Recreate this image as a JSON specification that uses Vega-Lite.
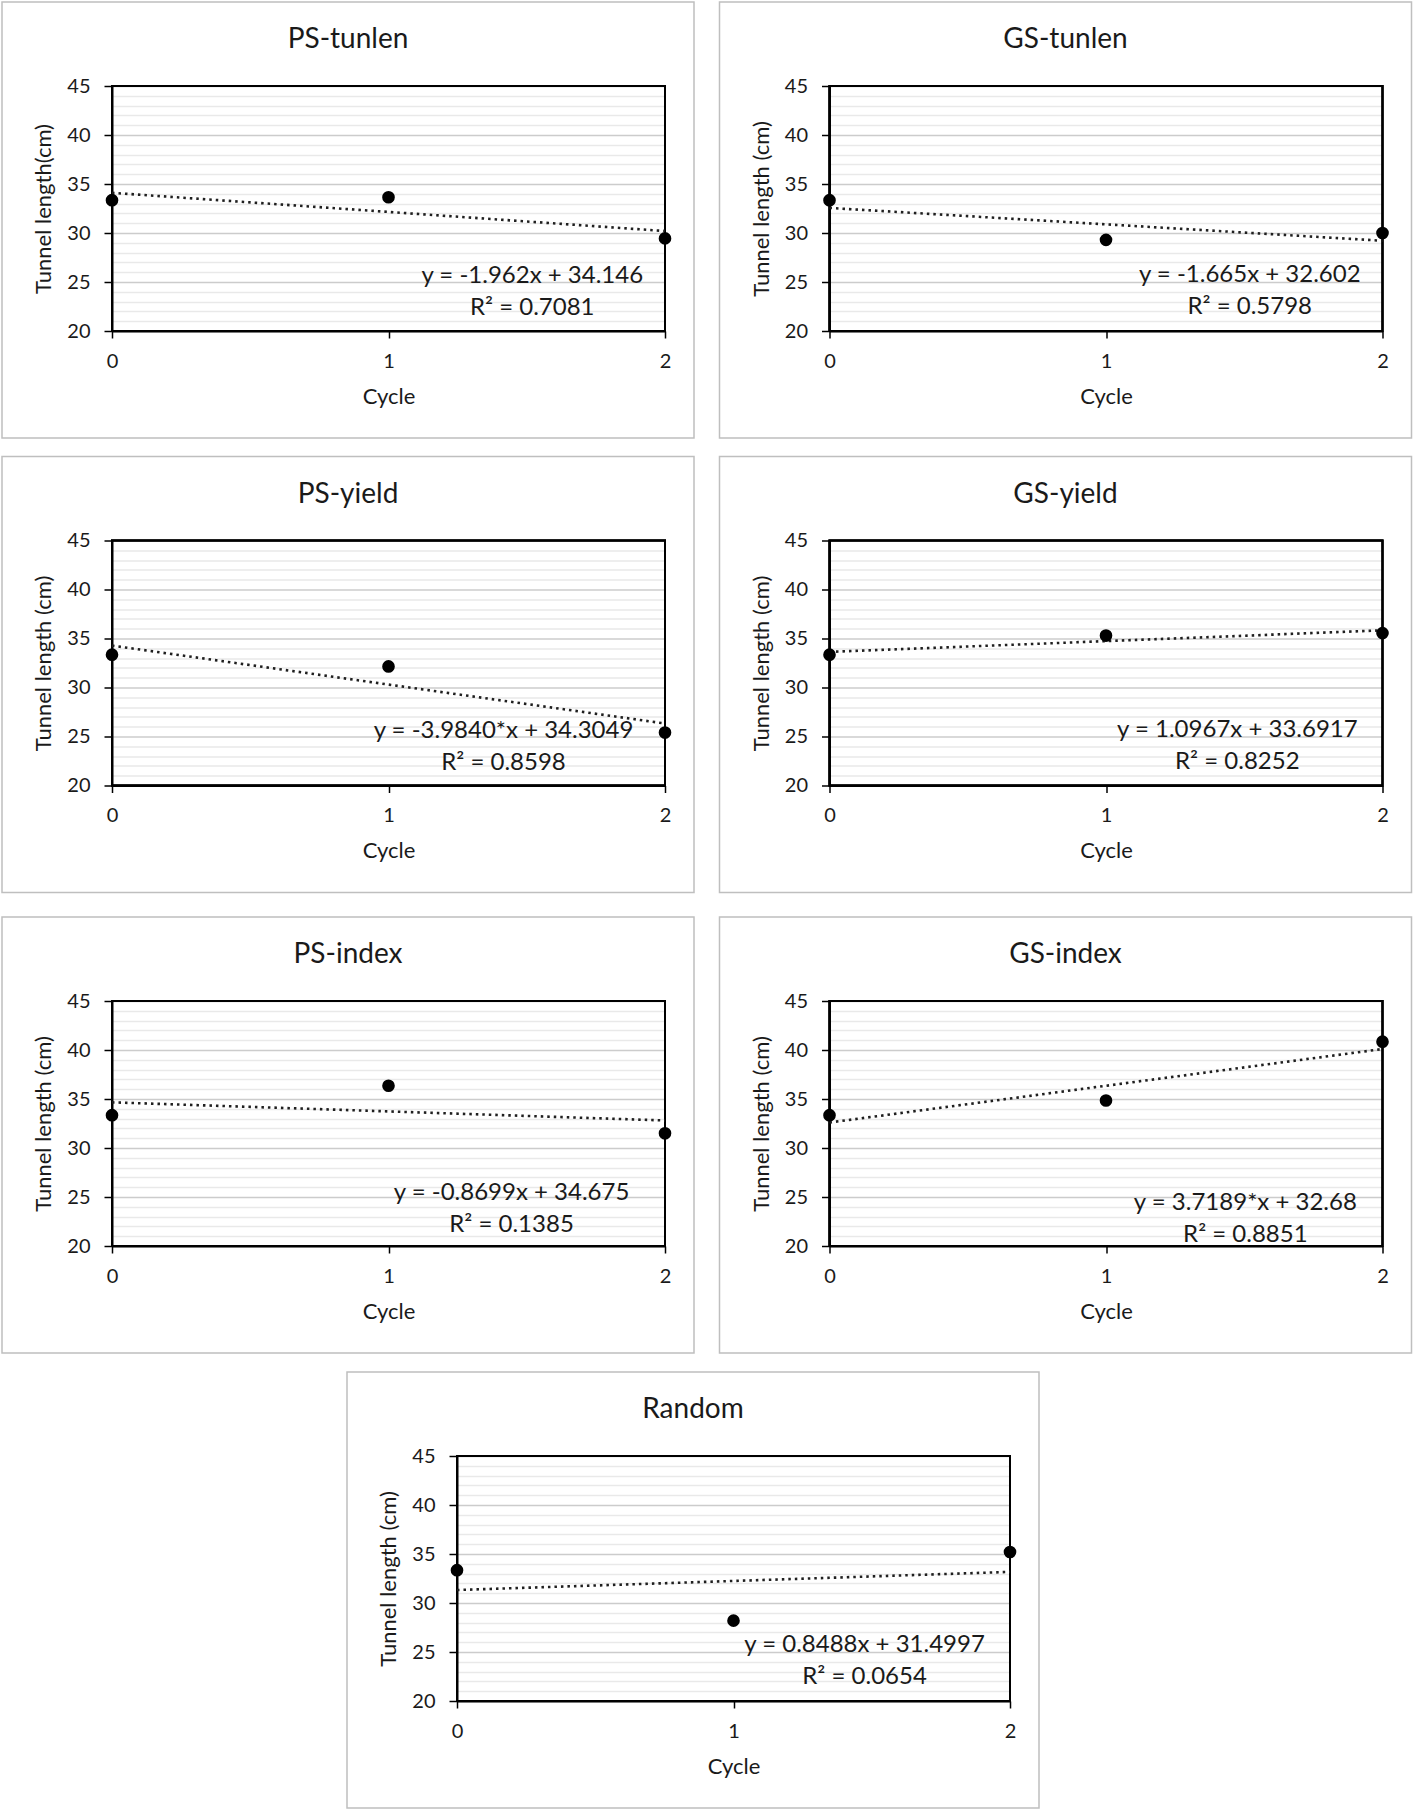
{
  "$schema": "https://vega.github.io/schema/vega-lite/v6.json",
  "padding": 1,
  "spacing": 22,
  "config": {
    "font": "Lato",
    "view": {"stroke": null},
    "axis": {
      "labelFontSize": 20, "labelColor": "#1a1a1a",
      "titleFontSize": 22, "titleFontWeight": "normal", "titleColor": "#1a1a1a",
      "domainColor": "black", "domainWidth": 2,
      "tickColor": "black", "tickWidth": 1.5,
      "labelFlush": false, "labelOverlap": false
    },
    "title": {"fontSize": 28, "fontWeight": "normal", "color": "#1a1a1a", "offset": -52, "baseline": "middle", "anchor": "middle"}
  },
  "datasets": {
    "points": [
      {"panel": "PS-tunlen", "cycle": 0, "length": 33.35},
      {"panel": "PS-tunlen", "cycle": 1, "length": 33.65},
      {"panel": "PS-tunlen", "cycle": 2, "length": 29.45},
      {"panel": "GS-tunlen", "cycle": 0, "length": 33.35},
      {"panel": "GS-tunlen", "cycle": 1, "length": 29.3},
      {"panel": "GS-tunlen", "cycle": 2, "length": 30.0},
      {"panel": "PS-yield", "cycle": 0, "length": 33.35},
      {"panel": "PS-yield", "cycle": 1, "length": 32.15},
      {"panel": "PS-yield", "cycle": 2, "length": 25.4},
      {"panel": "GS-yield", "cycle": 0, "length": 33.35},
      {"panel": "GS-yield", "cycle": 1, "length": 35.3},
      {"panel": "GS-yield", "cycle": 2, "length": 35.55},
      {"panel": "PS-index", "cycle": 0, "length": 33.35},
      {"panel": "PS-index", "cycle": 1, "length": 36.35},
      {"panel": "PS-index", "cycle": 2, "length": 31.5},
      {"panel": "GS-index", "cycle": 0, "length": 33.35},
      {"panel": "GS-index", "cycle": 1, "length": 34.85},
      {"panel": "GS-index", "cycle": 2, "length": 40.85},
      {"panel": "Random", "cycle": 0, "length": 33.35},
      {"panel": "Random", "cycle": 1, "length": 28.2},
      {"panel": "Random", "cycle": 2, "length": 35.2}
    ],
    "notes": [
      {"panel": "PS-tunlen", "cycle": 1.52, "length": 25.65, "label": "y = -1.962x + 34.146\nR² = 0.7081"},
      {"panel": "GS-tunlen", "cycle": 1.52, "length": 25.7, "label": "y = -1.665x + 32.602\nR² = 0.5798"},
      {"panel": "PS-yield", "cycle": 1.416, "length": 25.55, "label": "y = -3.9840*x + 34.3049\nR² = 0.8598"},
      {"panel": "GS-yield", "cycle": 1.475, "length": 25.7, "label": "y = 1.0967x + 33.6917\nR² = 0.8252"},
      {"panel": "PS-index", "cycle": 1.445, "length": 25.4, "label": "y = -0.8699x + 34.675\nR² = 0.1385"},
      {"panel": "GS-index", "cycle": 1.504, "length": 24.35, "label": "y = 3.7189*x + 32.68\nR² = 0.8851"},
      {"panel": "Random", "cycle": 1.474, "length": 25.7, "label": "y = 0.8488x + 31.4997\nR² = 0.0654"}
    ]
  },
  "vconcat": [
    {
      "spacing": 16.5,
      "vconcat": [
        {
          "spacing": 23.5,
          "hconcat": [
            {
              "width": 692, "height": 436,
              "view": {"stroke": "#bfbfbf", "strokeWidth": 1.5},
              "title": "PS-tunlen",
              "data": {"name": "points"},
              "transform": [{"filter": "datum.panel === 'PS-tunlen'"}],
              "encoding": {
                "x": {"field": "cycle", "type": "quantitative", "scale": {"domain": [0, 2], "range": [110, 663]},
                  "axis": {"title": "Cycle", "values": [0, 1, 2], "tickCount": 3, "labelExpr": "'' + datum.value", "grid": false, "tickSize": 7, "labelPadding": 13, "titlePadding": 15, "offset": -107}},
                "y": {"field": "length", "type": "quantitative", "scale": {"domain": [20, 45], "range": [329, 84]},
                  "axis": {"title": "Tunnel length(cm)", "values": [20,21,22,23,24,25,26,27,28,29,30,31,32,33,34,35,36,37,38,39,40,41,42,43,44,45],
                    "labelExpr": "datum.value % 5 === 0 ? datum.label : ''",
                    "tickColor": {"condition": {"test": "datum.value % 5 === 0", "value": "black"}, "value": "transparent"},
                    "grid": true, "gridColor": {"condition": {"test": "datum.value % 5 === 0", "value": "#cccccc"}, "value": "#e9e9e9"}, "gridWidth": 1.3,
                    "tickSize": 8, "labelPadding": 14, "titlePadding": 11, "offset": -110}}
              },
              "layer": [
                {"mark": {"type": "rect", "fill": null, "stroke": "black", "strokeWidth": 2},
                  "encoding": {"x": {"datum": 0}, "x2": {"datum": 2}, "y": {"datum": 20}, "y2": {"datum": 45}}},
                {"transform": [{"regression": "length", "on": "cycle", "extent": [0, 2]}],
                  "mark": {"type": "line", "strokeDash": [2.5, 4], "strokeWidth": 2.6, "color": "#1f1f1f"}},
                {"mark": {"type": "circle", "size": 160, "color": "black", "opacity": 1}},
                {"data": {"name": "notes"}, "transform": [{"filter": "datum.panel === 'PS-tunlen'"}],
                  "mark": {"type": "text", "fontSize": 24, "lineBreak": "\n", "lineHeight": 32, "align": "center", "baseline": "middle", "color": "#1a1a1a"},
                  "encoding": {"text": {"field": "label"}}}
              ]
            },
            {
              "width": 692, "height": 436,
              "view": {"stroke": "#bfbfbf", "strokeWidth": 1.5},
              "title": "GS-tunlen",
              "data": {"name": "points"},
              "transform": [{"filter": "datum.panel === 'GS-tunlen'"}],
              "encoding": {
                "x": {"field": "cycle", "type": "quantitative", "scale": {"domain": [0, 2], "range": [110, 663]},
                  "axis": {"title": "Cycle", "values": [0, 1, 2], "tickCount": 3, "labelExpr": "'' + datum.value", "grid": false, "tickSize": 7, "labelPadding": 13, "titlePadding": 15, "offset": -107}},
                "y": {"field": "length", "type": "quantitative", "scale": {"domain": [20, 45], "range": [329, 84]},
                  "axis": {"title": "Tunnel length (cm)", "values": [20,21,22,23,24,25,26,27,28,29,30,31,32,33,34,35,36,37,38,39,40,41,42,43,44,45],
                    "labelExpr": "datum.value % 5 === 0 ? datum.label : ''",
                    "tickColor": {"condition": {"test": "datum.value % 5 === 0", "value": "black"}, "value": "transparent"},
                    "grid": true, "gridColor": {"condition": {"test": "datum.value % 5 === 0", "value": "#cccccc"}, "value": "#e9e9e9"}, "gridWidth": 1.3,
                    "tickSize": 8, "labelPadding": 14, "titlePadding": 11, "offset": -110}}
              },
              "layer": [
                {"mark": {"type": "rect", "fill": null, "stroke": "black", "strokeWidth": 2},
                  "encoding": {"x": {"datum": 0}, "x2": {"datum": 2}, "y": {"datum": 20}, "y2": {"datum": 45}}},
                {"transform": [{"regression": "length", "on": "cycle", "extent": [0, 2]}],
                  "mark": {"type": "line", "strokeDash": [2.5, 4], "strokeWidth": 2.6, "color": "#1f1f1f"}},
                {"mark": {"type": "circle", "size": 160, "color": "black", "opacity": 1}},
                {"data": {"name": "notes"}, "transform": [{"filter": "datum.panel === 'GS-tunlen'"}],
                  "mark": {"type": "text", "fontSize": 24, "lineBreak": "\n", "lineHeight": 32, "align": "center", "baseline": "middle", "color": "#1a1a1a"},
                  "encoding": {"text": {"field": "label"}}}
              ]
            }
          ]
        },
        {
          "spacing": 23.5,
          "hconcat": [
            {
              "width": 692, "height": 436,
              "view": {"stroke": "#bfbfbf", "strokeWidth": 1.5},
              "title": "PS-yield",
              "data": {"name": "points"},
              "transform": [{"filter": "datum.panel === 'PS-yield'"}],
              "encoding": {
                "x": {"field": "cycle", "type": "quantitative", "scale": {"domain": [0, 2], "range": [110, 663]},
                  "axis": {"title": "Cycle", "values": [0, 1, 2], "tickCount": 3, "labelExpr": "'' + datum.value", "grid": false, "tickSize": 7, "labelPadding": 13, "titlePadding": 15, "offset": -107}},
                "y": {"field": "length", "type": "quantitative", "scale": {"domain": [20, 45], "range": [329, 84]},
                  "axis": {"title": "Tunnel length (cm)", "values": [20,21,22,23,24,25,26,27,28,29,30,31,32,33,34,35,36,37,38,39,40,41,42,43,44,45],
                    "labelExpr": "datum.value % 5 === 0 ? datum.label : ''",
                    "tickColor": {"condition": {"test": "datum.value % 5 === 0", "value": "black"}, "value": "transparent"},
                    "grid": true, "gridColor": {"condition": {"test": "datum.value % 5 === 0", "value": "#cccccc"}, "value": "#e9e9e9"}, "gridWidth": 1.3,
                    "tickSize": 8, "labelPadding": 14, "titlePadding": 11, "offset": -110}}
              },
              "layer": [
                {"mark": {"type": "rect", "fill": null, "stroke": "black", "strokeWidth": 2},
                  "encoding": {"x": {"datum": 0}, "x2": {"datum": 2}, "y": {"datum": 20}, "y2": {"datum": 45}}},
                {"transform": [{"regression": "length", "on": "cycle", "extent": [0, 2]}],
                  "mark": {"type": "line", "strokeDash": [2.5, 4], "strokeWidth": 2.6, "color": "#1f1f1f"}},
                {"mark": {"type": "circle", "size": 160, "color": "black", "opacity": 1}},
                {"data": {"name": "notes"}, "transform": [{"filter": "datum.panel === 'PS-yield'"}],
                  "mark": {"type": "text", "fontSize": 24, "lineBreak": "\n", "lineHeight": 32, "align": "center", "baseline": "middle", "color": "#1a1a1a"},
                  "encoding": {"text": {"field": "label"}}}
              ]
            },
            {
              "width": 692, "height": 436,
              "view": {"stroke": "#bfbfbf", "strokeWidth": 1.5},
              "title": "GS-yield",
              "data": {"name": "points"},
              "transform": [{"filter": "datum.panel === 'GS-yield'"}],
              "encoding": {
                "x": {"field": "cycle", "type": "quantitative", "scale": {"domain": [0, 2], "range": [110, 663]},
                  "axis": {"title": "Cycle", "values": [0, 1, 2], "tickCount": 3, "labelExpr": "'' + datum.value", "grid": false, "tickSize": 7, "labelPadding": 13, "titlePadding": 15, "offset": -107}},
                "y": {"field": "length", "type": "quantitative", "scale": {"domain": [20, 45], "range": [329, 84]},
                  "axis": {"title": "Tunnel length (cm)", "values": [20,21,22,23,24,25,26,27,28,29,30,31,32,33,34,35,36,37,38,39,40,41,42,43,44,45],
                    "labelExpr": "datum.value % 5 === 0 ? datum.label : ''",
                    "tickColor": {"condition": {"test": "datum.value % 5 === 0", "value": "black"}, "value": "transparent"},
                    "grid": true, "gridColor": {"condition": {"test": "datum.value % 5 === 0", "value": "#cccccc"}, "value": "#e9e9e9"}, "gridWidth": 1.3,
                    "tickSize": 8, "labelPadding": 14, "titlePadding": 11, "offset": -110}}
              },
              "layer": [
                {"mark": {"type": "rect", "fill": null, "stroke": "black", "strokeWidth": 2},
                  "encoding": {"x": {"datum": 0}, "x2": {"datum": 2}, "y": {"datum": 20}, "y2": {"datum": 45}}},
                {"transform": [{"regression": "length", "on": "cycle", "extent": [0, 2]}],
                  "mark": {"type": "line", "strokeDash": [2.5, 4], "strokeWidth": 2.6, "color": "#1f1f1f"}},
                {"mark": {"type": "circle", "size": 160, "color": "black", "opacity": 1}},
                {"data": {"name": "notes"}, "transform": [{"filter": "datum.panel === 'GS-yield'"}],
                  "mark": {"type": "text", "fontSize": 24, "lineBreak": "\n", "lineHeight": 32, "align": "center", "baseline": "middle", "color": "#1a1a1a"},
                  "encoding": {"text": {"field": "label"}}}
              ]
            }
          ]
        }
      ]
    },
    {
      "spacing": 17,
      "vconcat": [
        {
          "spacing": 23.5,
          "hconcat": [
            {
              "width": 692, "height": 436,
              "view": {"stroke": "#bfbfbf", "strokeWidth": 1.5},
              "title": "PS-index",
              "data": {"name": "points"},
              "transform": [{"filter": "datum.panel === 'PS-index'"}],
              "encoding": {
                "x": {"field": "cycle", "type": "quantitative", "scale": {"domain": [0, 2], "range": [110, 663]},
                  "axis": {"title": "Cycle", "values": [0, 1, 2], "tickCount": 3, "labelExpr": "'' + datum.value", "grid": false, "tickSize": 7, "labelPadding": 13, "titlePadding": 15, "offset": -107}},
                "y": {"field": "length", "type": "quantitative", "scale": {"domain": [20, 45], "range": [329, 84]},
                  "axis": {"title": "Tunnel length (cm)", "values": [20,21,22,23,24,25,26,27,28,29,30,31,32,33,34,35,36,37,38,39,40,41,42,43,44,45],
                    "labelExpr": "datum.value % 5 === 0 ? datum.label : ''",
                    "tickColor": {"condition": {"test": "datum.value % 5 === 0", "value": "black"}, "value": "transparent"},
                    "grid": true, "gridColor": {"condition": {"test": "datum.value % 5 === 0", "value": "#cccccc"}, "value": "#e9e9e9"}, "gridWidth": 1.3,
                    "tickSize": 8, "labelPadding": 14, "titlePadding": 11, "offset": -110}}
              },
              "layer": [
                {"mark": {"type": "rect", "fill": null, "stroke": "black", "strokeWidth": 2},
                  "encoding": {"x": {"datum": 0}, "x2": {"datum": 2}, "y": {"datum": 20}, "y2": {"datum": 45}}},
                {"transform": [{"regression": "length", "on": "cycle", "extent": [0, 2]}],
                  "mark": {"type": "line", "strokeDash": [2.5, 4], "strokeWidth": 2.6, "color": "#1f1f1f"}},
                {"mark": {"type": "circle", "size": 160, "color": "black", "opacity": 1}},
                {"data": {"name": "notes"}, "transform": [{"filter": "datum.panel === 'PS-index'"}],
                  "mark": {"type": "text", "fontSize": 24, "lineBreak": "\n", "lineHeight": 32, "align": "center", "baseline": "middle", "color": "#1a1a1a"},
                  "encoding": {"text": {"field": "label"}}}
              ]
            },
            {
              "width": 692, "height": 436,
              "view": {"stroke": "#bfbfbf", "strokeWidth": 1.5},
              "title": "GS-index",
              "data": {"name": "points"},
              "transform": [{"filter": "datum.panel === 'GS-index'"}],
              "encoding": {
                "x": {"field": "cycle", "type": "quantitative", "scale": {"domain": [0, 2], "range": [110, 663]},
                  "axis": {"title": "Cycle", "values": [0, 1, 2], "tickCount": 3, "labelExpr": "'' + datum.value", "grid": false, "tickSize": 7, "labelPadding": 13, "titlePadding": 15, "offset": -107}},
                "y": {"field": "length", "type": "quantitative", "scale": {"domain": [20, 45], "range": [329, 84]},
                  "axis": {"title": "Tunnel length (cm)", "values": [20,21,22,23,24,25,26,27,28,29,30,31,32,33,34,35,36,37,38,39,40,41,42,43,44,45],
                    "labelExpr": "datum.value % 5 === 0 ? datum.label : ''",
                    "tickColor": {"condition": {"test": "datum.value % 5 === 0", "value": "black"}, "value": "transparent"},
                    "grid": true, "gridColor": {"condition": {"test": "datum.value % 5 === 0", "value": "#cccccc"}, "value": "#e9e9e9"}, "gridWidth": 1.3,
                    "tickSize": 8, "labelPadding": 14, "titlePadding": 11, "offset": -110}}
              },
              "layer": [
                {"mark": {"type": "rect", "fill": null, "stroke": "black", "strokeWidth": 2},
                  "encoding": {"x": {"datum": 0}, "x2": {"datum": 2}, "y": {"datum": 20}, "y2": {"datum": 45}}},
                {"transform": [{"regression": "length", "on": "cycle", "extent": [0, 2]}],
                  "mark": {"type": "line", "strokeDash": [2.5, 4], "strokeWidth": 2.6, "color": "#1f1f1f"}},
                {"mark": {"type": "circle", "size": 160, "color": "black", "opacity": 1}},
                {"data": {"name": "notes"}, "transform": [{"filter": "datum.panel === 'GS-index'"}],
                  "mark": {"type": "text", "fontSize": 24, "lineBreak": "\n", "lineHeight": 32, "align": "center", "baseline": "middle", "color": "#1a1a1a"},
                  "encoding": {"text": {"field": "label"}}}
              ]
            }
          ]
        },
        {
          "spacing": 24,
          "hconcat": [
            {"width": 320, "height": 436, "data": {"values": []}, "mark": "point"},
            {
              "width": 692, "height": 436,
              "view": {"stroke": "#bfbfbf", "strokeWidth": 1.5},
              "title": "Random",
              "data": {"name": "points"},
              "transform": [{"filter": "datum.panel === 'Random'"}],
              "encoding": {
                "x": {"field": "cycle", "type": "quantitative", "scale": {"domain": [0, 2], "range": [110, 663]},
                  "axis": {"title": "Cycle", "values": [0, 1, 2], "tickCount": 3, "labelExpr": "'' + datum.value", "grid": false, "tickSize": 7, "labelPadding": 13, "titlePadding": 15, "offset": -107}},
                "y": {"field": "length", "type": "quantitative", "scale": {"domain": [20, 45], "range": [329, 84]},
                  "axis": {"title": "Tunnel length (cm)", "values": [20,21,22,23,24,25,26,27,28,29,30,31,32,33,34,35,36,37,38,39,40,41,42,43,44,45],
                    "labelExpr": "datum.value % 5 === 0 ? datum.label : ''",
                    "tickColor": {"condition": {"test": "datum.value % 5 === 0", "value": "black"}, "value": "transparent"},
                    "grid": true, "gridColor": {"condition": {"test": "datum.value % 5 === 0", "value": "#cccccc"}, "value": "#e9e9e9"}, "gridWidth": 1.3,
                    "tickSize": 8, "labelPadding": 14, "titlePadding": 11, "offset": -110}}
              },
              "layer": [
                {"mark": {"type": "rect", "fill": null, "stroke": "black", "strokeWidth": 2},
                  "encoding": {"x": {"datum": 0}, "x2": {"datum": 2}, "y": {"datum": 20}, "y2": {"datum": 45}}},
                {"transform": [{"regression": "length", "on": "cycle", "extent": [0, 2]}],
                  "mark": {"type": "line", "strokeDash": [2.5, 4], "strokeWidth": 2.6, "color": "#1f1f1f"}},
                {"mark": {"type": "circle", "size": 160, "color": "black", "opacity": 1}},
                {"data": {"name": "notes"}, "transform": [{"filter": "datum.panel === 'Random'"}],
                  "mark": {"type": "text", "fontSize": 24, "lineBreak": "\n", "lineHeight": 32, "align": "center", "baseline": "middle", "color": "#1a1a1a"},
                  "encoding": {"text": {"field": "label"}}}
              ]
            }
          ]
        }
      ]
    }
  ]
}
